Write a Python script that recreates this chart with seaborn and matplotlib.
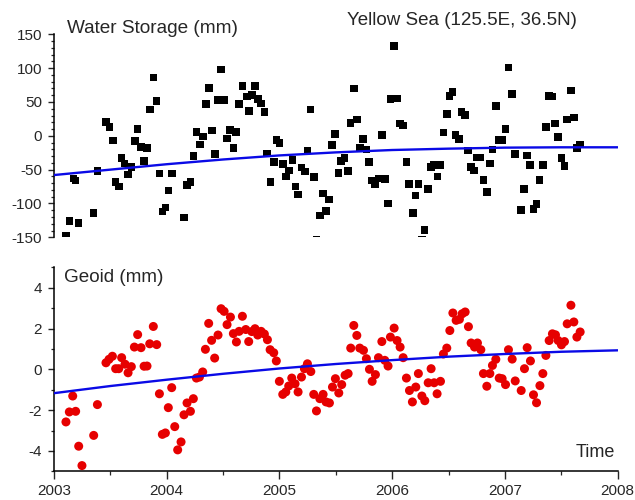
import numpy as np
import pandas as pd
import matplotlib
matplotlib.use('Agg')
import matplotlib.pyplot as plt
import seaborn as sns
from matplotlib.ticker import MultipleLocator

# 상단: 수저장량 (mm), 약 10일 간격
ws_time = [2003.107, 2003.136, 2003.172, 2003.192, 2003.219, 2003.352, 2003.385, 2003.461, 2003.491, 2003.521,
           2003.547, 2003.574, 2003.598, 2003.627, 2003.657, 2003.686, 2003.716, 2003.742, 2003.769, 2003.799,
           2003.825, 2003.849, 2003.881, 2003.908, 2003.935, 2003.961, 2003.988, 2004.014, 2004.047, 2004.071,
           2004.151, 2004.180, 2004.210, 2004.236, 2004.263, 2004.293, 2004.319, 2004.346, 2004.375, 2004.402,
           2004.429, 2004.452, 2004.482, 2004.509, 2004.535, 2004.562, 2004.591, 2004.615, 2004.642, 2004.671,
           2004.710, 2004.730, 2004.754, 2004.783, 2004.807, 2004.837, 2004.866, 2004.890, 2004.919, 2004.949,
           2004.972, 2004.999, 2005.029, 2005.056, 2005.082, 2005.115, 2005.141, 2005.165, 2005.195, 2005.224,
           2005.248, 2005.275, 2005.304, 2005.328, 2005.358, 2005.387, 2005.411, 2005.440, 2005.467, 2005.493,
           2005.523, 2005.547, 2005.576, 2005.606, 2005.629, 2005.659, 2005.686, 2005.712, 2005.742, 2005.771,
           2005.795, 2005.819, 2005.848, 2005.878, 2005.908, 2005.934, 2005.961, 2005.984, 2006.014, 2006.043,
           2006.070, 2006.097, 2006.126, 2006.150, 2006.183, 2006.206, 2006.232, 2006.263, 2006.288, 2006.319,
           2006.345, 2006.372, 2006.401, 2006.425, 2006.454, 2006.484, 2006.508, 2006.534, 2006.561, 2006.591,
           2006.614, 2006.644, 2006.673, 2006.697, 2006.727, 2006.753, 2006.780, 2006.809, 2006.839, 2006.866,
           2006.889, 2006.919, 2006.946, 2006.975, 2007.005, 2007.031, 2007.061, 2007.088, 2007.141, 2007.170,
           2007.197, 2007.224, 2007.253, 2007.280, 2007.306, 2007.336, 2007.363, 2007.389, 2007.419, 2007.446,
           2007.473, 2007.501, 2007.528, 2007.552, 2007.585, 2007.611, 2007.638, 2007.667]
ws_value = [-148, -126, -63, -66, -129, -114, -52, 20, 13, -7,
            -68, -75, -33, -41, -57, -46, -8, 10, -17, -37,
            -18, 39, 86, 51, -56, -112, -106, -81, -56, -155,
            -121, -73, -68, -30, 6, -13, -1, 47, 71, 8,
            -27, 53, 98, 53, -4, 9, -18, 6, 47, 74,
            58, 37, 60, 74, 54, 48, 35, -26, -68, -39,
            -6, -11, -42, -60, -51, -36, -75, -87, -47, -53,
            -22, 39, -61, -153, -118, -85, -111, -94, -14, 3,
            -55, -37, -33, -52, 19, 70, 24, -18, -5, -20,
            -39, -66, -71, -63, 1, -64, -100, 54, 133, 55,
            18, 15, -39, -71, -114, -88, -71, -153, -139, -79,
            -46, -43, -60, -43, 5, 32, 59, 65, 1, -5,
            35, 31, -22, -46, -51, -32, -32, -65, -83, -41,
            -20, 44, -6, -6, 10, 101, 62, -27, -110, -79,
            -29, -43, -108, -101, -65, -43, 13, 59, 58, 18,
            -2, -33, -45, 24, 67, 27, -18, -13]

# 하단: 지오이드 (mm)
gd_time = [2003.106, 2003.136, 2003.166, 2003.192, 2003.219, 2003.248, 2003.352, 2003.385, 2003.461, 2003.488,
           2003.518, 2003.547, 2003.574, 2003.600, 2003.630, 2003.657, 2003.686, 2003.713, 2003.742, 2003.772,
           2003.799, 2003.825, 2003.849, 2003.881, 2003.911, 2003.935, 2003.961, 2003.988, 2004.014, 2004.044,
           2004.071, 2004.097, 2004.127, 2004.153, 2004.180, 2004.210, 2004.236, 2004.263, 2004.290, 2004.319,
           2004.343, 2004.372, 2004.398, 2004.425, 2004.455, 2004.482, 2004.509, 2004.535, 2004.565, 2004.591,
           2004.618, 2004.642, 2004.671, 2004.701, 2004.727, 2004.754, 2004.783, 2004.807, 2004.837, 2004.866,
           2004.893, 2004.917, 2004.949, 2004.972, 2004.999, 2005.029, 2005.056, 2005.082, 2005.109, 2005.138,
           2005.165, 2005.195, 2005.221, 2005.248, 2005.278, 2005.304, 2005.328, 2005.358, 2005.387, 2005.413,
           2005.443, 2005.470, 2005.496, 2005.526, 2005.552, 2005.582, 2005.609, 2005.632, 2005.659, 2005.686,
           2005.712, 2005.745, 2005.771, 2005.798, 2005.822, 2005.851, 2005.878, 2005.908, 2005.934, 2005.963,
           2005.984, 2006.017, 2006.043, 2006.070, 2006.097, 2006.126, 2006.153, 2006.179, 2006.209, 2006.232,
           2006.263, 2006.289, 2006.319, 2006.345, 2006.372, 2006.398, 2006.428, 2006.454, 2006.484, 2006.511,
           2006.538, 2006.567, 2006.596, 2006.620, 2006.647, 2006.676, 2006.700, 2006.730, 2006.756, 2006.786,
           2006.809, 2006.839, 2006.866, 2006.889, 2006.919, 2006.949, 2006.975, 2007.005, 2007.031, 2007.064,
           2007.091, 2007.144, 2007.173, 2007.197, 2007.226, 2007.253, 2007.280, 2007.310, 2007.336, 2007.363,
           2007.392, 2007.421, 2007.448, 2007.472, 2007.501, 2007.528, 2007.552, 2007.585, 2007.611, 2007.638,
           2007.667]
gd_value = [-2.58, -2.09, -1.31, -2.06, -3.77, -4.72, -3.24, -1.73, 0.32, 0.49,
            0.64, 0.03, 0.03, 0.57, 0.25, -0.17, 0.13, 1.09, 1.70, 1.06,
            0.15, 0.16, 1.25, 2.10, 1.21, -1.20, -3.19, -3.12, -1.88, -0.90,
            -2.81, -3.95, -3.56, -2.23, -1.65, -2.06, -1.44, -0.43, -0.38, -0.13,
            0.98, 2.25, 1.42, 0.55, 1.68, 2.97, 2.84, 2.19, 2.56, 1.75,
            1.34, 1.86, 2.60, 1.95, 1.36, 1.85, 1.99, 1.68, 1.86, 1.73,
            1.45, 0.96, 0.81, 0.41, -0.59, -1.23, -1.11, -0.82, -0.43, -0.71,
            -1.11, -0.38, 0.03, 0.27, -0.11, -1.23, -2.04, -1.44, -1.23, -1.60,
            -1.65, -0.87, -0.46, -1.16, -0.75, -0.29, -0.21, 1.04, 2.15, 1.66,
            1.04, 0.93, 0.52, 0.00, -0.59, -0.26, 0.57, 1.36, 0.44, 0.16,
            1.58, 2.02, 1.41, 1.09, 0.57, -0.43, -1.04, -1.60, -0.87, -0.21,
            -1.31, -1.54, -0.66, 0.03, -0.66, -1.20, -0.59, 0.75, 1.04, 1.90,
            2.76, 2.40, 2.45, 2.72, 2.81, 2.09, 1.29, 1.09, 1.29, 0.96,
            -0.21, -0.83, -0.21, 0.19, 0.49, -0.43, -0.46, -0.75, 0.96, 0.50,
            -0.57, -1.04, 0.03, 1.06, 0.41, -1.25, -1.64, -0.80, -0.21, 0.68,
            1.41, 1.74, 1.69, 1.41, 1.20, 1.36, 2.23, 3.14, 2.32, 1.58,
            1.83]

# 추세선
trend_time = [2003.0, 2003.5, 2004.0, 2004.5, 2005.0, 2005.5, 2006.0, 2006.5, 2007.0, 2007.5, 2008.0]
ws_trend = [-58, -50, -42, -35, -29, -24.5, -21, -19, -17.5, -17, -17]
gd_trend = [-1.17, -0.82, -0.51, -0.22, 0.04, 0.26, 0.45, 0.62, 0.75, 0.86, 0.93]

sns.set_style('white')
plt.rcParams['font.family'] = ['Liberation Sans', 'DejaVu Sans']
plt.rcParams['axes.unicode_minus'] = False

W, H = 635, 500
fig = plt.figure(figsize=(W / 100, H / 100), dpi=100)
ax1 = fig.add_axes([54 / W, 1 - 237.3 / H, 563.7 / W, 203 / H])
ax2 = fig.add_axes([54 / W, 1 - 471.3 / H, 563.7 / W, 204 / H])

blue = '#0a0ae6'
red = '#e60000'

# 상단 패널
sns.scatterplot(x=ws_time, y=ws_value, marker='s', s=30, color='black', edgecolor='none', ax=ax1, zorder=3)
sns.lineplot(x=trend_time, y=ws_trend, color=blue, linewidth=1.7, ax=ax1, zorder=4)
ax1.set_xlim(2003, 2008)
ax1.set_ylim(-150, 150)
for s in ['top', 'right', 'bottom']:
    ax1.spines[s].set_visible(False)
ax1.spines['left'].set_linewidth(1.1)
ax1.spines['left'].set_color('black')
ax1.set_xticks([])
ax1.yaxis.set_major_locator(MultipleLocator(50))
ax1.yaxis.set_minor_locator(MultipleLocator(10))
ax1.tick_params(axis='y', which='major', direction='out', length=4.5, width=1.0, pad=4, labelsize=11, left=True)
ax1.tick_params(axis='y', which='minor', direction='out', length=2.5, width=0.9, left=True)

# 하단 패널
sns.scatterplot(x=gd_time, y=gd_value, marker='o', s=42, color=red, edgecolor='none', ax=ax2, zorder=3)
sns.lineplot(x=trend_time, y=gd_trend, color=blue, linewidth=1.7, ax=ax2, zorder=4)
ax2.set_xlim(2003, 2008)
ax2.set_ylim(-5, 5)
for s in ['top', 'right']:
    ax2.spines[s].set_visible(False)
for s in ['left', 'bottom']:
    ax2.spines[s].set_linewidth(1.1)
    ax2.spines[s].set_color('black')
ax2.yaxis.set_major_locator(MultipleLocator(2))
ax2.yaxis.set_minor_locator(MultipleLocator(1))
ax2.xaxis.set_major_locator(MultipleLocator(1))
ax2.xaxis.set_minor_locator(MultipleLocator(0.5))
ax2.xaxis.set_major_formatter(plt.FuncFormatter(lambda v, p: f"{int(round(v))}"))
ax2.tick_params(axis='y', which='major', direction='out', length=4.5, width=1.0, pad=4, labelsize=11, left=True)
ax2.tick_params(axis='y', which='minor', direction='out', length=2.5, width=0.9, left=True)
ax2.tick_params(axis='x', which='major', direction='out', length=6, width=1.0, pad=3, labelsize=11, bottom=True)
ax2.tick_params(axis='x', which='minor', direction='out', length=3, width=0.9, bottom=True)
ax1.set_xlabel('')
ax2.set_xlabel('')

# 글자
fig.text(67 / W, 1 - 33 / H, 'Water Storage (mm)', fontsize=13.7, va='baseline', ha='left')
fig.text(347 / W, 1 - 25 / H, 'Yellow Sea (125.5E, 36.5N)', fontsize=13.5, va='baseline', ha='left')
fig.text(64 / W, 1 - 281.7 / H, 'Geoid (mm)', fontsize=13.6, va='baseline', ha='left')
fig.text(615 / W, 1 - 456.7 / H, 'Time', fontsize=13, va='baseline', ha='right')

fig.savefig('out.png', dpi=100)
